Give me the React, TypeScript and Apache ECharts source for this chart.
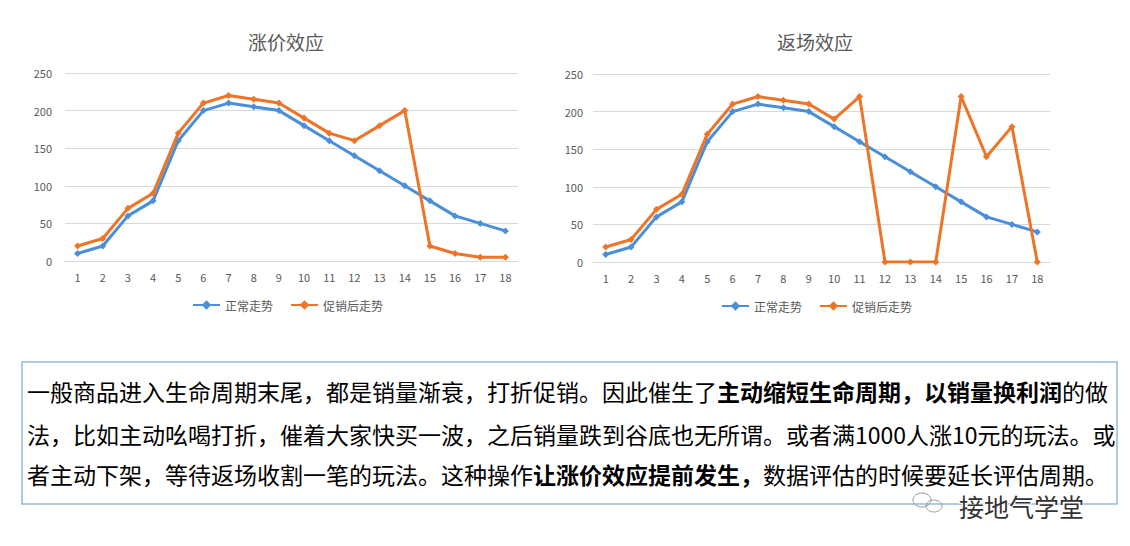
import React, { useEffect, useRef } from "react";
import * as echarts from "echarts";

const categories = ["1","2","3","4","5","6","7","8","9","10","11","12","13","14","15","16","17","18"];
const normalTrend = [10, 20, 60, 80, 160, 200, 210, 205, 200, 180, 160, 140, 120, 100, 80, 60, 50, 40];
const priceRisePromo = [20, 30, 70, 90, 170, 210, 220, 215, 210, 190, 170, 160, 180, 200, 20, 10, 5, 5];
const returnPromo = [20, 30, 70, 90, 170, 210, 220, 215, 210, 190, 220, 0, 0, 0, 220, 140, 180, 0];
const yTicks = { min: 0, max: 250, interval: 50 };
const titles = ["涨价效应", "返场效应"];
const seriesNames = ["正常走势", "促销后走势"];

const textLines = [
  [
    { t: "一般商品进入生命周期末尾，都是销量渐衰，打折促销。因此催生了", b: false },
    { t: "主动缩短生命周期，以销量换利润", b: true },
    { t: "的做", b: false },
  ],
  [
    { t: "法，比如主动吆喝打折，催着大家快买一波，之后销量跌到谷底也无所谓。或者满1000人涨10元的玩法。或", b: false },
  ],
  [
    { t: "者主动下架，等待返场收割一笔的玩法。这种操作", b: false },
    { t: "让涨价效应提前发生，", b: true },
    { t: "数据评估的时候要延长评估周期。", b: false },
  ],
];
const watermark = "接地气学堂";

const BLUE = "#4a8fd8";
const ORANGE = "#ee7428";
const GRAY = "#595959";
const FONT = "'Noto Sans CJK SC', 'Noto Sans', sans-serif";

export default function App() {
  const ref = useRef<HTMLDivElement>(null);
  useEffect(() => {
    const chart = echarts.init(ref.current!, undefined, { renderer: "svg" });
    const grids = [
      { left: 65, top: 73, width: 453, height: 188 },
      { left: 593, top: 74, width: 457, height: 188 },
    ];
    const xAxis = grids.map((_, i) => ({
      type: "category",
      gridIndex: i,
      data: categories,
      boundaryGap: true,
      axisLine: { show: true, lineStyle: { color: "#d9d9d9", width: 1 } },
      axisTick: { show: false },
      axisLabel: { color: GRAY, fontSize: 11, margin: 10, fontFamily: FONT, interval: 0 },
    }));
    const yAxis = grids.map((_, i) => ({
      type: "value",
      gridIndex: i,
      min: yTicks.min,
      max: yTicks.max,
      interval: yTicks.interval,
      axisLine: { show: false },
      axisTick: { show: false },
      axisLabel: { color: GRAY, fontSize: 11, margin: i === 0 ? 13 : 10, fontFamily: FONT },
      splitLine: { lineStyle: { color: "#d9d9d9", width: 1 } },
    }));
    const mk = (name: string, data: number[], color: string, idx: number) => ({
      name,
      type: "line",
      xAxisIndex: idx,
      yAxisIndex: idx,
      data,
      symbol: "diamond",
      symbolSize: 7,
      lineStyle: { color, width: 3 },
      itemStyle: { color },
      z: color === ORANGE ? 3 : 2,
    });
    const richStyles = {
      n: { fontSize: 23, lineHeight: 22, fontFamily: FONT, color: "#2a2a2a", fontWeight: "normal" },
      b: { fontSize: 23, lineHeight: 22, fontFamily: FONT, color: "#111", fontWeight: "bold" },
    };
    const lineYs = [390, 433, 473];
    const textGraphics = textLines.map((segs, i) => ({
      type: "text",
      left: 27,
      top: lineYs[i] - 11,
      style: {
        text: segs.map((s) => `{${s.b ? "b" : "n"}|${s.t}}`).join(""),
        rich: richStyles,
        fontSize: 23,
        lineHeight: 22,
        fontFamily: FONT,
      },
      z: 10,
    }));
    chart.setOption({
      animation: false,
      backgroundColor: "#ffffff",
      title: [
        { text: titles[0], left: 281, top: 27, textAlign: "center", textStyle: { color: GRAY, fontSize: 19, fontWeight: "normal", fontFamily: FONT } },
        { text: titles[1], left: 810, top: 27, textAlign: "center", textStyle: { color: GRAY, fontSize: 19, fontWeight: "normal", fontFamily: FONT } },
      ],
      legend: [
        { data: seriesNames, left: 187, top: 294, itemWidth: 27, itemHeight: 12, itemGap: 17, textStyle: { color: GRAY, fontSize: 12, fontFamily: FONT } },
        { data: seriesNames, left: 716, top: 295, itemWidth: 27, itemHeight: 12, itemGap: 17, textStyle: { color: GRAY, fontSize: 12, fontFamily: FONT } },
      ],
      grid: grids,
      xAxis,
      yAxis,
      series: [
        mk(seriesNames[0], normalTrend, BLUE, 0),
        mk(seriesNames[1], priceRisePromo, ORANGE, 0),
        mk(seriesNames[0], normalTrend, BLUE, 1),
        mk(seriesNames[1], returnPromo, ORANGE, 1),
      ],
      graphic: [
        {
          type: "rect",
          shape: { x: 22, y: 362, width: 1095, height: 142 },
          style: { fill: "#ffffff", stroke: "#93bcdc", lineWidth: 1.5 },
          z: 1,
        },
        ...textGraphics,
        { type: "ellipse", shape: { cx: 922, cy: 500, rx: 9, ry: 7 }, style: { fill: "none", stroke: "#9a9a9a", lineWidth: 1 }, z: 11 },
        { type: "ellipse", shape: { cx: 934, cy: 506, rx: 8, ry: 6 }, style: { fill: "none", stroke: "#9a9a9a", lineWidth: 1 }, z: 11 },
        {
          type: "text",
          left: 958,
          top: 492,
          style: { text: watermark, fontSize: 25, lineHeight: 24, fontFamily: FONT, fill: "#333", stroke: "#fff", lineWidth: 2 },
          z: 12,
        },
      ],
    });
    return () => chart.dispose();
  }, []);
  return <div ref={ref} style={{ position: "fixed", left: 0, top: 0, width: 1130, height: 546 }} />;
}
